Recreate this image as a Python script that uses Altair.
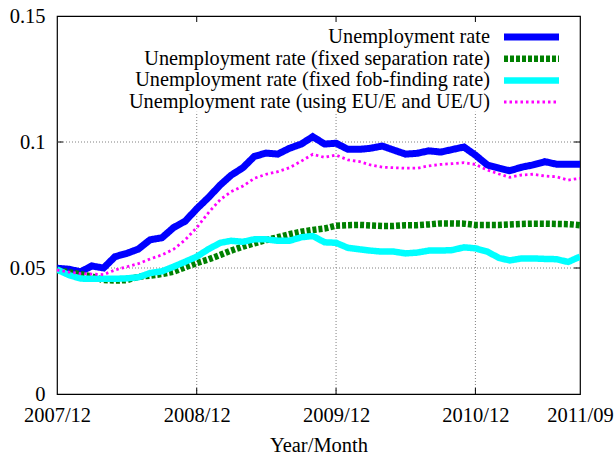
import altair as alt
import pandas as pd

# ---- data ----
months = pd.date_range("2007-12-01", "2011-09-01", freq="MS").strftime("%Y-%m-%d").tolist()

unemp = [0.0499, 0.0495, 0.0485, 0.0508, 0.0500, 0.0545, 0.0558, 0.0575, 0.0612, 0.0620,
         0.0660, 0.0686, 0.0735, 0.0780, 0.0830, 0.0868, 0.0898, 0.0943, 0.0956, 0.0952,
         0.0975, 0.0992, 0.1021, 0.0992, 0.0995, 0.0971, 0.0971, 0.0975, 0.0984, 0.0968,
         0.0952, 0.0955, 0.0965, 0.0960, 0.0970, 0.0980, 0.0948, 0.0909, 0.0896, 0.0886,
         0.0900, 0.0909, 0.0922, 0.0912, 0.0912, 0.0912]
fixed_sep = [0.0492, 0.0483, 0.0475, 0.0467, 0.0452, 0.0450, 0.0452, 0.0465, 0.0470, 0.0476,
             0.0485, 0.0503, 0.0520, 0.0534, 0.0552, 0.0569, 0.0585, 0.0598, 0.0611, 0.0622,
             0.0634, 0.0644, 0.0651, 0.0657, 0.0668, 0.0670, 0.0671, 0.0669, 0.0667, 0.0667,
             0.0670, 0.0670, 0.0673, 0.0677, 0.0677, 0.0676, 0.0671, 0.0671, 0.0671, 0.0673,
             0.0675, 0.0676, 0.0676, 0.0675, 0.0674, 0.0670]
fixed_find = [0.0494, 0.0472, 0.0458, 0.0457, 0.0457, 0.0457, 0.0459, 0.0463, 0.0480, 0.0487,
              0.0505, 0.0525, 0.0545, 0.0575, 0.0600, 0.0608, 0.0604, 0.0614, 0.0614, 0.0608,
              0.0608, 0.0622, 0.0627, 0.0602, 0.0600, 0.0580, 0.0574, 0.0569, 0.0565, 0.0565,
              0.0558, 0.0561, 0.0569, 0.0569, 0.0571, 0.0582, 0.0578, 0.0565, 0.0540, 0.0530,
              0.0538, 0.0538, 0.0536, 0.0535, 0.0524, 0.0545]
eu_ue = [0.0492, 0.0484, 0.0478, 0.0476, 0.0474, 0.0492, 0.0505, 0.0517, 0.0536, 0.0552,
         0.0574, 0.0612, 0.0660, 0.0720, 0.0772, 0.0803, 0.0825, 0.0856, 0.0872, 0.0882,
         0.0898, 0.0924, 0.0951, 0.0939, 0.0948, 0.0929, 0.0922, 0.0909, 0.0900, 0.0898,
         0.0896, 0.0896, 0.0905, 0.0911, 0.0914, 0.0918, 0.0911, 0.0889, 0.0873, 0.0860,
         0.0869, 0.0872, 0.0865, 0.0862, 0.0849, 0.0856]

series_names = [
    "Unemployment rate",
    "Unemployment rate (fixed separation rate)",
    "Unemployment rate (fixed fob-finding rate)",
    "Unemployment rate (using EU/E and UE/U)",
]
series_values = [unemp, fixed_sep, fixed_find, eu_ue]
series_colors = ["#0000ff", "#008000", "#00ffff", "#ff00ff"]
series_widths = [7, 6.5, 6.5, 2.8]
series_dash = [[1, 0], [4, 2], [1, 0], [2.5, 3]]

x_tick_dates = ["2007-12-01", "2008-12-01", "2009-12-01", "2010-12-01", "2011-09-01"]
x_grid_dates = ["2008-12-01", "2009-12-01", "2010-12-01"]
y_ticks = [0, 0.05, 0.1, 0.15]
y_grid = [0.05, 0.1]

# ---- chart ----
W, H = 523, 378
FONT = "Liberation Serif"
FS_AXIS = 20.5
FS_KEY = 20.3


def dt(s):
    y, m, d = (int(v) for v in s.split("-"))
    return alt.DateTime(year=y, month=m, date=d, utc=True)


x_enc = alt.X(
    "date:T",
    scale=alt.Scale(type="utc", domain=[dt(months[0]), dt(months[-1])]),
    axis=alt.Axis(values=[dt(s) for s in x_tick_dates], format="%Y/%m",
                  title="Year/Month", grid=False, domain=False, ticks=False,
                  labelPadding=11, labelFlush=False, labelOverlap=False, labelBound=False,
                  titlePadding=10),
)
y_enc = alt.Y(
    "value:Q",
    scale=alt.Scale(domain=[0, 0.15], nice=False, zero=True),
    axis=alt.Axis(values=y_ticks, format=".2~f", title=None, grid=False, domain=False,
                  ticks=False, labelPadding=12),
)

layers = []

# grid lines
hgrid = alt.Chart(pd.DataFrame({"value": y_grid})).mark_rule(
    color="#808080", strokeWidth=1, strokeDash=[1, 2]
).encode(y=y_enc, x=alt.value(0), x2=alt.value(W))
vgrid = alt.Chart(pd.DataFrame({"date": x_grid_dates, "value": [0.0] * 3, "top": [0.112] * 3})).mark_rule(
    color="#808080", strokeWidth=1, strokeDash=[1, 2]
).encode(x=x_enc, y=y_enc, y2="top:Q")
layers += [hgrid, vgrid]

# inward ticks (mirrored)
ydf = pd.DataFrame({"value": y_grid})
xdf = pd.DataFrame({"date": x_grid_dates})
tick_style = dict(color="black", strokeWidth=1)
layers.append(alt.Chart(ydf).mark_rule(**tick_style).encode(y=y_enc, x=alt.value(0), x2=alt.value(6)))
layers.append(alt.Chart(ydf).mark_rule(**tick_style).encode(y=y_enc, x=alt.value(W - 6), x2=alt.value(W)))
layers.append(alt.Chart(xdf).mark_rule(**tick_style).encode(x=x_enc, y=alt.value(H - 6), y2=alt.value(H)))
layers.append(alt.Chart(xdf).mark_rule(**tick_style).encode(x=x_enc, y=alt.value(0), y2=alt.value(6)))

# series lines
for name, vals, col, w, dash in zip(series_names, series_values, series_colors, series_widths, series_dash):
    df = pd.DataFrame({"date": months, "value": vals})
    layers.append(
        alt.Chart(df).mark_line(color=col, strokeWidth=w, strokeDash=dash, clip=True).encode(x=x_enc, y=y_enc)
    )

# key (gnuplot style: label right-aligned, sample to the right)
row_y = [21, 42.7, 64.4, 86]
for name, col, w, dash, ry in zip(series_names, series_colors, series_widths, series_dash, row_y):
    d = pd.DataFrame({"label": [name]})
    layers.append(
        alt.Chart(d).mark_text(align="right", baseline="middle", font=FONT, fontSize=FS_KEY, color="black").encode(
            text="label:N", x=alt.value(433), y=alt.value(ry)
        )
    )
    layers.append(
        alt.Chart(d).mark_rule(color=col, strokeWidth=w, strokeDash=dash).encode(
            x=alt.value(447), x2=alt.value(502), y=alt.value(ry)
        )
    )

chart = alt.layer(*layers).properties(
    width=W, height=H,
    autosize=alt.AutoSizeParams(type="none"),
    padding={"left": 57, "top": 16, "right": 36, "bottom": 61},
    background="white",
).configure_view(
    stroke="black", strokeWidth=1.2
).configure_axis(
    labelFont=FONT, labelFontSize=FS_AXIS, labelColor="black",
    titleFont=FONT, titleFontSize=FS_AXIS, titleFontWeight="normal", titleColor="black",
)

chart.save("out.html", embed_options={"renderer": "svg", "actions": False})
